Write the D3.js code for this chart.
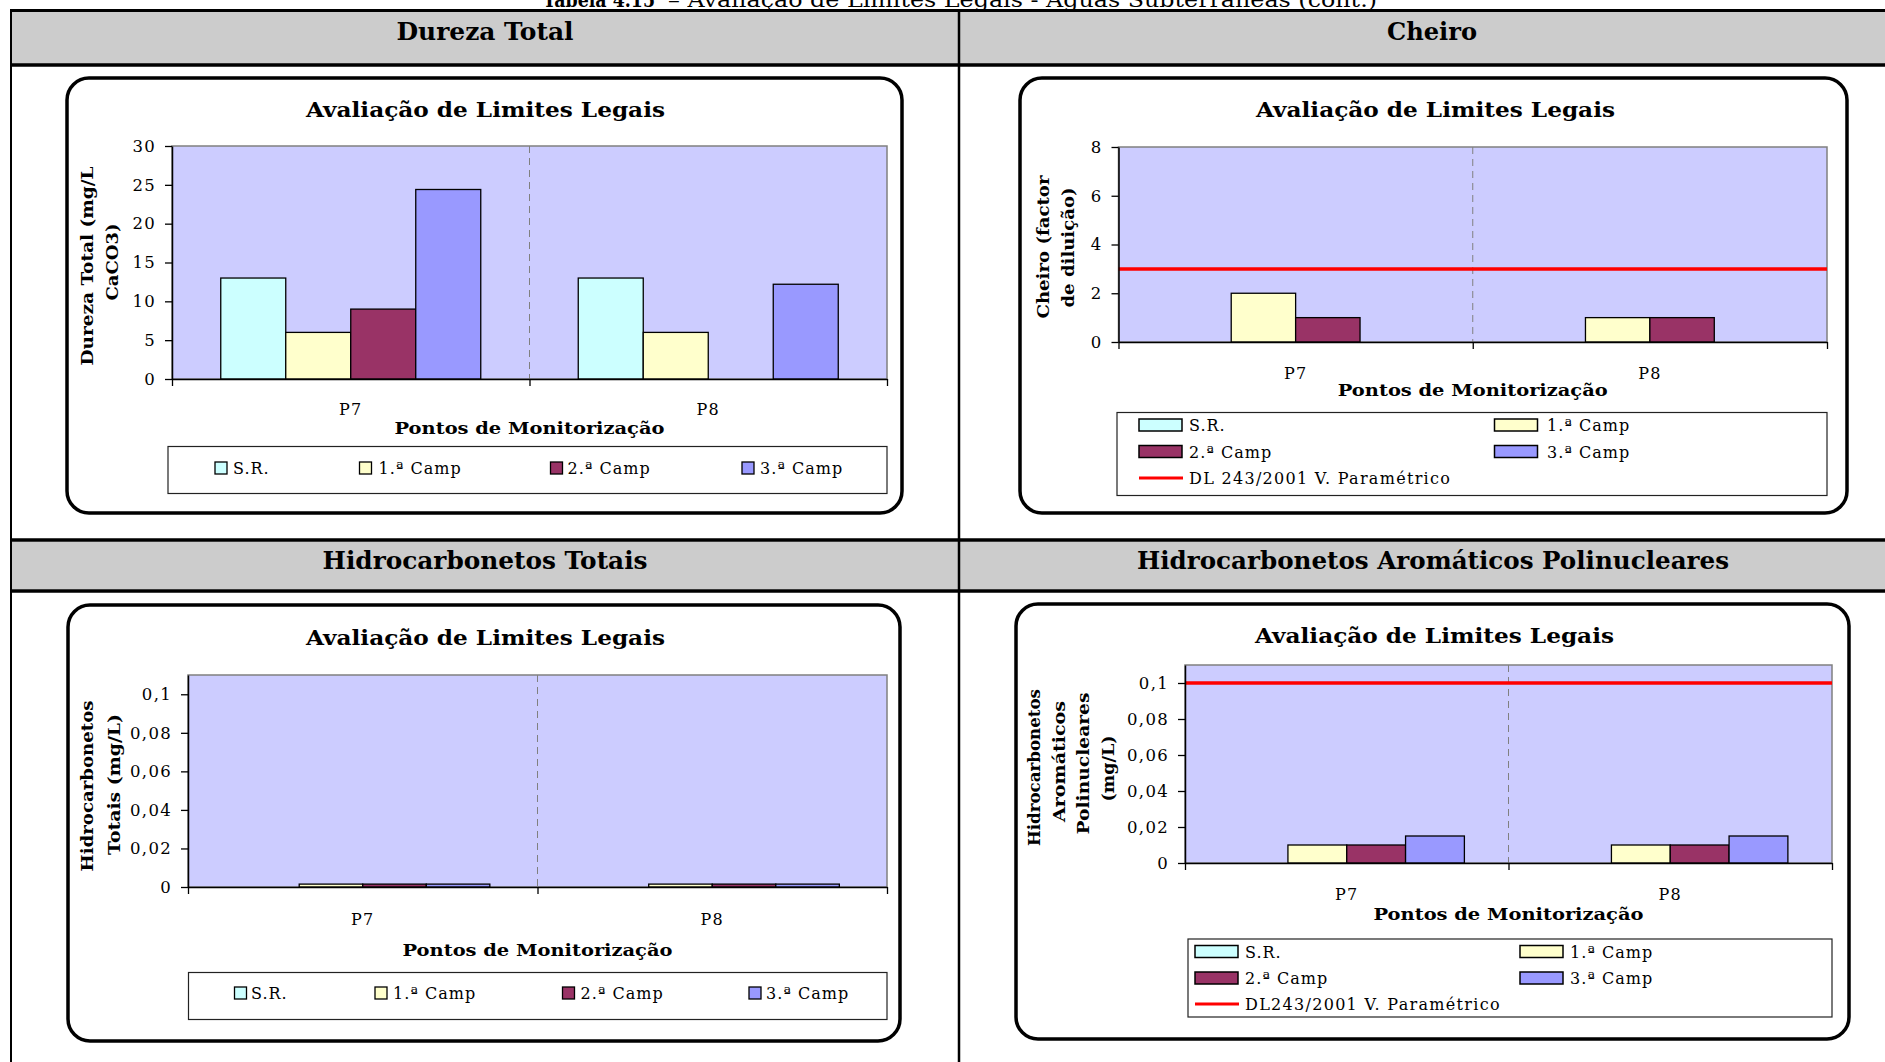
<!DOCTYPE html>
<html><head><meta charset="utf-8">
<script src="https://cdn.jsdelivr.net/npm/d3@7"></script>
<style>html,body{margin:0;padding:0;background:#fff;overflow:hidden}</style>
</head><body>
<svg id="c" width="1885" height="1062"></svg>
<script>
// ---------- DATA ----------
const categories = ["P7", "P8"];
const seriesNames = ["S.R.", "1.ª Camp", "2.ª Camp", "3.ª Camp"];
const seriesColors = ["#CCFFFF", "#FFFFCC", "#993366", "#9999FF"];

const durezaSR    = [13, 13];
const durezaCamp1 = [6, 6];
const durezaCamp2 = [9, null];
const durezaCamp3 = [24.4, 12.2];
const durezaTicks = [0, 5, 10, 15, 20, 25, 30];

const cheiroSR    = [null, null];
const cheiroCamp1 = [2, 1];
const cheiroCamp2 = [1, 1];
const cheiroCamp3 = [null, null];
const cheiroLimit = 3;
const cheiroTicks = [0, 2, 4, 6, 8];

const htSR    = [null, null];
const htCamp1 = [0.0015, 0.0015];
const htCamp2 = [0.0015, 0.0015];
const htCamp3 = [0.0015, 0.0015];
const htTicks = [0, 0.02, 0.04, 0.06, 0.08, 0.1];

const hapSR    = [null, null];
const hapCamp1 = [0.01, 0.01];
const hapCamp2 = [0.01, 0.01];
const hapCamp3 = [0.015, 0.015];
const hapLimit = 0.1;
const hapTicks = [0, 0.02, 0.04, 0.06, 0.08, 0.1];

const headerTitles = ["Dureza Total", "Cheiro", "Hidrocarbonetos Totais", "Hidrocarbonetos Aromáticos Polinucleares"];
const chartTitle = "Avaliação de Limites Legais";
const xAxisTitle = "Pontos de Monitorização";
const limitLabel2 = "DL 243/2001 V. Paramétrico";
const limitLabel4 = "DL243/2001 V. Paramétrico";

// ---------- DRAW ----------
const svg = d3.select("#c");
const FONT = "DejaVu Serif";

function T(g, s, x, y, o = {}) {
  const t = g.append("text").attr("x", x).attr("y", y).text(s)
    .attr("font-family", FONT).attr("font-size", o.size || 16)
    .attr("font-weight", o.bold ? "bold" : "normal")
    .attr("text-anchor", o.anchor || "start").attr("fill", "#000");
  if (o.len) t.attr("textLength", o.len).attr("lengthAdjust", "spacingAndGlyphs");
  if (o.ls) t.attr("letter-spacing", o.ls);
  if (o.rot) t.attr("transform", `rotate(-90,${x},${y})`);
  return t;
}

// caption (cut off at the top edge, as in the reference)
T(svg, "Tabela 4.15", 543, 7, {bold: true, size: 20, len: 112});
T(svg, "– Avaliação de Limites Legais - Águas Subterrâneas (cont.)", 668, 7, {size: 20, len: 709});

// table
svg.append("rect").attr("x", 11).attr("y", 12).attr("width", 1874).attr("height", 52).attr("fill", "#CCCCCC");
svg.append("rect").attr("x", 11).attr("y", 541.5).attr("width", 1874).attr("height", 48).attr("fill", "#CCCCCC");
[[10.5, 3], [65, 3.5], [540, 3.5], [591, 3.5]].forEach(([yy, sw]) =>
  svg.append("line").attr("x1", 10).attr("x2", 1885).attr("y1", yy).attr("y2", yy).attr("stroke", "#000").attr("stroke-width", sw));
[[11, 2], [959, 2.5]].forEach(([xx, sw]) =>
  svg.append("line").attr("x1", xx).attr("x2", xx).attr("y1", 9).attr("y2", 1062).attr("stroke", "#000").attr("stroke-width", sw));

T(svg, headerTitles[0], 485, 40, {bold: true, size: 24, anchor: "middle", len: 177});
T(svg, headerTitles[1], 1432, 40, {bold: true, size: 24, anchor: "middle", len: 90});
T(svg, headerTitles[2], 485, 569, {bold: true, size: 24, anchor: "middle", len: 325});
T(svg, headerTitles[3], 1433, 569, {bold: true, size: 24, anchor: "middle", len: 592});

const fmtInt = d => String(d);
const fmtDec = d => String(d).replace(".", ",");

function drawChart(c) {
  const g = svg.append("g");
  const [fx0, fy0, fx1, fy1] = c.frame;
  g.append("rect").attr("x", fx0).attr("y", fy0).attr("width", fx1 - fx0).attr("height", fy1 - fy0)
    .attr("rx", 22).attr("fill", "#fff").attr("stroke", "#000").attr("stroke-width", 3.5);
  T(g, chartTitle, c.titleX, c.titleY, {size: 20, bold: true, anchor: "middle", len: 359});

  const [x0, y0, x1, y1] = c.plot;
  const y = d3.scaleLinear().domain(c.domain).range([y1, y0]);
  const xc = d3.scaleBand().domain(categories).range([x0, x1]);
  const xs = d3.scaleBand().domain(seriesNames).range([0, xc.bandwidth()]).paddingInner(0).paddingOuter(0.75);
  const xl = d3.scaleLinear().domain([0, categories.length]).range([x0, x1]);

  g.append("rect").attr("x", x0).attr("y", y0).attr("width", x1 - x0).attr("height", y1 - y0)
    .attr("fill", "#CCCCFF").attr("stroke", "#808080").attr("stroke-width", 1.5);
  d3.range(1, categories.length).forEach(i =>
    g.append("line").attr("x1", xl(i)).attr("x2", xl(i)).attr("y1", y0).attr("y2", y1)
      .attr("stroke", "#808080").attr("stroke-width", 1).attr("stroke-dasharray", "7,5"));

  c.series.forEach((vals, si) => vals.forEach((v, ci) => {
    if (v == null) return;
    g.append("rect").attr("x", xc(categories[ci]) + xs(seriesNames[si])).attr("y", y(v))
      .attr("width", xs.bandwidth()).attr("height", y(0) - y(v))
      .attr("fill", seriesColors[si]).attr("stroke", "#000").attr("stroke-width", 1.3);
  }));

  if (c.limit != null)
    g.append("line").attr("x1", x0).attr("x2", x1).attr("y1", y(c.limit)).attr("y2", y(c.limit))
      .attr("stroke", "#FF0000").attr("stroke-width", 3.5);

  const ya = g.append("g").attr("transform", `translate(${x0},0)`)
    .call(d3.axisLeft(y).tickValues(c.ticks).tickFormat(c.fmt).tickSize(7).tickSizeOuter(0).tickPadding(9));
  ya.select(".domain").attr("stroke", "#000").attr("stroke-width", 1.5);
  ya.selectAll(".tick line").attr("stroke", "#000").attr("stroke-width", 1.3);
  ya.selectAll(".tick text").attr("font-family", FONT).attr("font-size", 16.5).attr("letter-spacing", 1.3).attr("fill", "#000");

  const xa = g.append("g").attr("transform", `translate(0,${y1})`)
    .call(d3.axisBottom(xl).tickValues(d3.range(categories.length + 1)).tickFormat("").tickSize(7).tickSizeOuter(0));
  xa.select(".domain").attr("stroke", "#000").attr("stroke-width", 1.5);
  xa.selectAll(".tick line").attr("stroke", "#000").attr("stroke-width", 1.3);

  categories.forEach(cat => T(g, cat, xc(cat) + xc.bandwidth() / 2, c.catY, {anchor: "middle", ls: 1.2}));
  T(g, xAxisTitle, (x0 + x1) / 2, c.xTitleY, {bold: true, size: 17, anchor: "middle", len: 270});
  c.yTitle.forEach(l => T(g, l.t, l.x, l.y, {bold: true, size: 16, anchor: "middle", len: l.len, rot: true}));

  const L = c.legend;
  const [lx0, ly0, lx1, ly1] = L.box;
  g.append("rect").attr("x", lx0).attr("y", ly0).attr("width", lx1 - lx0).attr("height", ly1 - ly0)
    .attr("fill", "#fff").attr("stroke", "#222").attr("stroke-width", 1.2);
  if (L.type === "row") {
    seriesNames.forEach((n, i) => {
      g.append("rect").attr("x", L.swX[i]).attr("y", L.cy - 6).attr("width", 12).attr("height", 12)
        .attr("fill", seriesColors[i]).attr("stroke", "#000").attr("stroke-width", 1.3);
      T(g, n, L.txX[i], L.cy + 6, {ls: 1});
    });
  } else {
    seriesNames.forEach((n, i) => {
      const col = i % 2, row = Math.floor(i / 2);
      g.append("rect").attr("x", L.swX[col]).attr("y", L.rows[row] - 6).attr("width", 43).attr("height", 12)
        .attr("fill", seriesColors[i]).attr("stroke", "#000").attr("stroke-width", 1.5);
      T(g, n, L.txX[col], L.rows[row] + 6, {ls: 1});
    });
    g.append("line").attr("x1", L.swX[0]).attr("x2", L.swX[0] + 44).attr("y1", L.rows[2]).attr("y2", L.rows[2])
      .attr("stroke", "#FF0000").attr("stroke-width", 3);
    T(g, L.limitText, L.txX[0], L.rows[2] + 6, {ls: 1.3});
  }
}

drawChart({
  frame: [67, 78, 902, 513], titleX: 485.5, titleY: 117,
  plot: [172, 146, 887, 379], domain: [0, 30], ticks: durezaTicks, fmt: fmtInt,
  series: [durezaSR, durezaCamp1, durezaCamp2, durezaCamp3], limit: null,
  catY: 414.5, xTitleY: 434,
  yTitle: [{t: "Dureza Total (mg/L", x: 93, y: 266, len: 199}, {t: "CaCO3)", x: 118, y: 262, len: 77}],
  legend: {type: "row", box: [168, 446.5, 887, 493.5], swX: [215, 359.5, 550.5, 742], txX: [233, 378.5, 567.5, 760], cy: 468}
});

drawChart({
  frame: [1020, 78, 1847, 513], titleX: 1435.5, titleY: 117,
  plot: [1118.5, 147, 1827, 342], domain: [0, 8], ticks: cheiroTicks, fmt: fmtInt,
  series: [cheiroSR, cheiroCamp1, cheiroCamp2, cheiroCamp3], limit: cheiroLimit,
  catY: 379, xTitleY: 396,
  yTitle: [{t: "Cheiro (factor", x: 1048.5, y: 247, len: 143}, {t: "de diluição)", x: 1074, y: 247.5, len: 120}],
  legend: {type: "grid", box: [1117, 412.5, 1827, 495.5], swX: [1139, 1494.5], txX: [1189, 1547], rows: [425, 451.5, 478], limitText: limitLabel2}
});

drawChart({
  frame: [68, 605, 900, 1041], titleX: 485.5, titleY: 645,
  plot: [188, 675, 887, 887], domain: [0, 0.11], ticks: htTicks, fmt: fmtDec,
  series: [htSR, htCamp1, htCamp2, htCamp3], limit: null,
  catY: 925, xTitleY: 955.5,
  yTitle: [{t: "Hidrocarbonetos", x: 92.5, y: 786, len: 171}, {t: "Totais (mg/L)", x: 119.5, y: 784.5, len: 141}],
  legend: {type: "row", box: [188.5, 972.5, 887, 1019.5], swX: [234.5, 375, 562.5, 749], txX: [251, 393, 580.5, 766], cy: 993}
});

drawChart({
  frame: [1016, 604, 1849, 1039], titleX: 1434.5, titleY: 643,
  plot: [1185, 665, 1832, 863], domain: [0, 0.11], ticks: hapTicks, fmt: fmtDec,
  series: [hapSR, hapCamp1, hapCamp2, hapCamp3], limit: hapLimit,
  catY: 900, xTitleY: 920,
  yTitle: [
    {t: "Hidrocarbonetos", x: 1039.5, y: 767.5, len: 157},
    {t: "Aromáticos", x: 1064.5, y: 761.5, len: 121},
    {t: "Polinucleares", x: 1088.5, y: 763.5, len: 142},
    {t: "(mg/L)", x: 1113.5, y: 768.5, len: 66}],
  legend: {type: "grid", box: [1188, 939, 1832, 1017], swX: [1195, 1520], txX: [1245, 1570], rows: [951.5, 978, 1004], limitText: limitLabel4}
});
</script>
</body></html>
